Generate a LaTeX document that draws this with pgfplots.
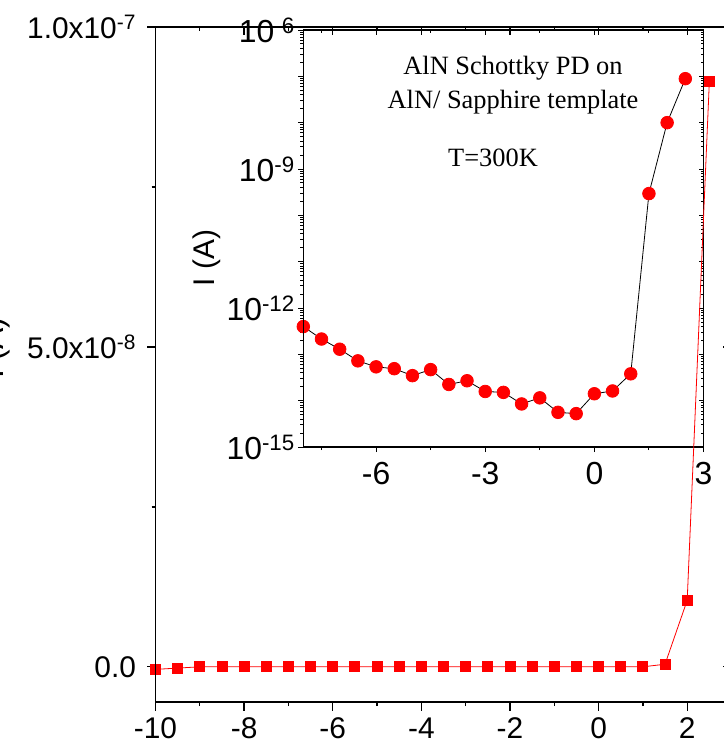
\documentclass[border=0pt]{standalone}
\usepackage{fontspec}
\setmainfont{Liberation Sans}
\newfontfamily\seriffont{Liberation Serif}
\usepackage{pgfplots}
\pgfplotsset{compat=1.18}
\definecolor{pred}{RGB}{255,0,0}
\pgfplotsset{/pgfplots/insetcommon/.style={
  at={(303.3bp,297bp)}, anchor=south west, scale only axis,
  width=400.2bp, height=417bp,
  xmin=-8, xmax=3, ymin=1e-15, ymax=1e-6,
  xtick={-6,-3,0,3}, minor xtick={-7.5,-4.5,-1.5,1.5},
  ytick={1e-15,1e-14,1e-13,1e-12,1e-11,1e-10,1e-9,1e-8,1e-7,1e-6},
  minor ytick={2e-15,3e-15,4e-15,5e-15,6e-15,7e-15,8e-15,9e-15,
   2e-14,3e-14,4e-14,5e-14,6e-14,7e-14,8e-14,9e-14,
   2e-13,3e-13,4e-13,5e-13,6e-13,7e-13,8e-13,9e-13,
   2e-12,3e-12,4e-12,5e-12,6e-12,7e-12,8e-12,9e-12,
   2e-11,3e-11,4e-11,5e-11,6e-11,7e-11,8e-11,9e-11,
   2e-10,3e-10,4e-10,5e-10,6e-10,7e-10,8e-10,9e-10,
   2e-9,3e-9,4e-9,5e-9,6e-9,7e-9,8e-9,9e-9,
   2e-8,3e-8,4e-8,5e-8,6e-8,7e-8,8e-8,9e-8,
   2e-7,3e-7,4e-7,5e-7,6e-7,7e-7,8e-7,9e-7},
  major tick length=5bp, minor tick length=3bp,
  axis line style={line width=1.3bp, black},
  tick style={line width=0.9bp, black},
  tick label style={font=\fontsize{32}{38}\selectfont},
}}
\pgfplotsset{/pgfplots/maincommon/.style={
  at={(155.5bp,42bp)}, anchor=south west, scale only axis,
  width=576bp, height=675bp,
  xmin=-10, xmax=3, ymin=-5.5e-9, ymax=1e-7,
  xtick={-10,-8,-6,-4,-2,0,2}, minor xtick={-9,-7,-5,-3,-1,1},
  ytick={0,5e-8,1e-7}, minor ytick={2.5e-8,7.5e-8},
  scaled ticks=false,
  major tick length=8.5bp, minor tick length=4bp,
  axis line style={line width=1.8bp, black},
  tick style={line width=1.3bp, black},
  tick label style={font=\fontsize{30}{36}\selectfont},
}}
\begin{document}
\begin{tikzpicture}[x=1bp,y=1bp]
%---------------- inset (log) ----------------
\begin{semilogyaxis}[insetcommon,
  tick align=outside, xtick pos=left, ytick pos=left,
  xticklabels={-6,-3,0,3},
  xticklabel style={yshift=-7bp},
  yticklabels={10\textsuperscript{-15},,,10\textsuperscript{-12},,,10\textsuperscript{-9},,,10\textsuperscript{-6}},
  clip mode=individual,
]
\addplot[black, line width=0.8bp, mark=*, mark size=6.3bp,
  mark options={draw=pred, fill=pred}] coordinates {
(-8,3.98e-13) (-7.5,2.14e-13) (-7,1.29e-13) (-6.5,7.24e-14) (-6,5.37e-14)
(-5.5,4.90e-14) (-5,3.47e-14) (-4.5,4.68e-14) (-4,2.24e-14) (-3.5,2.69e-14)
(-3,1.58e-14) (-2.5,1.51e-14) (-2,8.5e-15) (-1.5,1.15e-14) (-1,5.6e-15)
(-0.5,5.25e-15) (0,1.41e-14) (0.5,1.62e-14) (1,3.8e-14) (1.5,2.95e-10)
(2,1.0e-8) (2.5,8.9e-8)};
\end{semilogyaxis}
\begin{semilogyaxis}[insetcommon,
  tick align=inside, xtick pos=right, ytick pos=right,
  xticklabels={}, yticklabels={},
]
\end{semilogyaxis}
\node[rotate=90, font=\fontsize{30}{36}\selectfont] at (207bp,486bp) {I (A)};
\node[font=\seriffont\fontsize{26.5}{32}\selectfont] at (513bp,676bp) {AlN Schottky PD on};
\node[font=\seriffont\fontsize{26.5}{32}\selectfont] at (513bp,642bp) {AlN/ Sapphire template};
\node[font=\seriffont\fontsize{26.5}{32}\selectfont] at (493bp,586bp) {T=300K};
%---------------- main (linear) ----------------
\begin{axis}[maincommon,
  tick align=outside, xtick pos=left, ytick pos=left,
  xticklabels={-10,-8,-6,-4,-2,0,2},
  xticklabel style={yshift=-4bp},
  yticklabels={0.0,5.0x10\textsuperscript{-8},1.0x10\textsuperscript{-7}},
  yticklabel style={xshift=-7.5bp},
  clip mode=individual,
]
\addplot[pred, line width=0.8bp, mark=square*, mark size=5bp,
  mark options={draw=pred, fill=pred}] coordinates {
(-10,-4e-10) (-9.5,-2e-10) (-9,0) (-8.5,0) (-8,0) (-7.5,0) (-7,0) (-6.5,0)
(-6,0) (-5.5,0) (-5,0) (-4.5,0) (-4,0) (-3.5,0) (-3,0) (-2.5,0) (-2,0)
(-1.5,0) (-1,0) (-0.5,0) (0,0) (0.5,0) (1,0) (1.5,4e-10) (2,1.04e-8)
(2.5,9.15e-8)};
\end{axis}
\begin{axis}[maincommon,
  tick align=inside, xtick pos=right, ytick pos=right,
  xticklabels={}, yticklabels={},
]
\end{axis}
\node[rotate=90, anchor=south, font=\fontsize{32}{38}\selectfont] at (14bp,396bp) {I (A)};
\pgfresetboundingbox
\useasboundingbox (0bp,0bp) rectangle (724bp,744bp);
\end{tikzpicture}
\end{document}
